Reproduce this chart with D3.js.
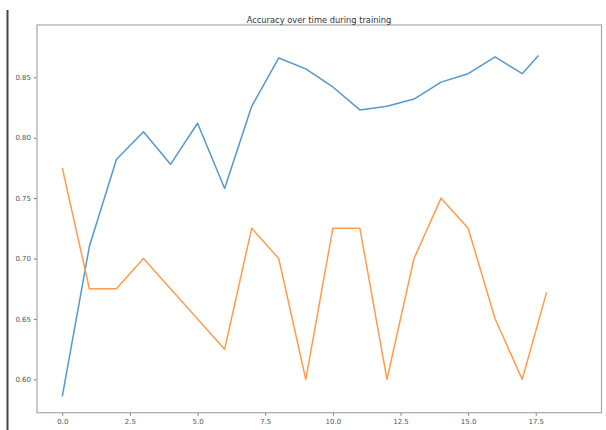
<!DOCTYPE html>
<html>
<head>
<meta charset="utf-8">
<script src="https://cdn.jsdelivr.net/npm/d3@7/dist/d3.min.js"></script>
<style>
  html, body { margin: 0; padding: 0; background: #fff; }
  svg { display: block; }
  .tick text { font-family: "DejaVu Sans", sans-serif; fill: #555; }
</style>
</head>
<body>
<svg id="chart" width="606" height="430"></svg>
<script>
// Training run: accuracy per epoch
const trainSteps = [0, 1, 2, 3, 4, 5, 6, 7, 8, 9, 10, 11, 12, 13, 14, 15, 16, 17, 17.6];
const trainAcc   = [0.586, 0.710, 0.782, 0.805, 0.778, 0.812, 0.758, 0.826, 0.866, 0.857,
                    0.842, 0.823, 0.826, 0.832, 0.846, 0.853, 0.867, 0.853, 0.868];
const valSteps   = [0, 1, 2, 3, 4, 5, 6, 7, 8, 9, 10, 11, 12, 13, 14, 15, 16, 17, 17.9];
const valAcc     = [0.775, 0.675, 0.675, 0.700, 0.675, 0.650, 0.625, 0.725, 0.700, 0.600,
                    0.725, 0.725, 0.600, 0.700, 0.750, 0.725, 0.650, 0.600, 0.672];
const xTicks = [0, 2.5, 5, 7.5, 10, 12.5, 15, 17.5];
const yTicks = [0.60, 0.65, 0.70, 0.75, 0.80, 0.85];
const title = "Accuracy over time during training";

const svg = d3.select("#chart");
const plotLeft = 37, plotRight = 601.5, plotTop = 25, plotBottom = 412.7;

const x = d3.scaleLinear().domain([-0.935, 19.93]).range([plotLeft, plotRight]);
const y = d3.scaleLinear().domain([0.5724, 0.8933]).range([plotBottom, plotTop]);

// window edge on the far left
svg.append("line")
  .attr("x1", 7.5).attr("x2", 7.5).attr("y1", 10).attr("y2", 430)
  .attr("stroke", "#444").attr("stroke-width", 2);

// axes
const xAxis = svg.append("g")
  .attr("transform", `translate(0,${plotBottom})`)
  .call(d3.axisBottom(x).tickValues(xTicks).tickFormat(d3.format(".1f")).tickSize(3).tickPadding(3));
const yAxis = svg.append("g")
  .attr("transform", `translate(${plotLeft},0)`)
  .call(d3.axisLeft(y).tickValues(yTicks).tickFormat(d3.format(".2f")).tickSize(3).tickPadding(3));
[xAxis, yAxis].forEach(g => {
  g.select(".domain").remove();
  g.selectAll(".tick line").attr("stroke", "#777");
  g.selectAll(".tick text").attr("font-size", 7);
});

// frame
svg.append("rect")
  .attr("x", plotLeft).attr("y", plotTop)
  .attr("width", plotRight - plotLeft).attr("height", plotBottom - plotTop)
  .attr("fill", "none").attr("stroke", "#a8a8a8").attr("stroke-width", 1.2);

// series
const line = d3.line().x(d => x(d[0])).y(d => y(d[1]));
svg.append("path")
  .datum(trainSteps.map((s, i) => [s, trainAcc[i]]))
  .attr("d", line)
  .attr("fill", "none").attr("stroke", "#5598ce").attr("stroke-width", 1.5)
  .attr("stroke-linejoin", "round");
svg.append("path")
  .datum(valSteps.map((s, i) => [s, valAcc[i]]))
  .attr("d", line)
  .attr("fill", "none").attr("stroke", "#ff9c4c").attr("stroke-width", 1.5)
  .attr("stroke-linejoin", "round");

// title
svg.append("text")
  .attr("x", 319).attr("y", 22.5)
  .attr("text-anchor", "middle")
  .attr("font-family", "DejaVu Sans, sans-serif")
  .attr("font-size", 8.3)
  .attr("fill", "#333")
  .text(title);
</script>
</body>
</html>
